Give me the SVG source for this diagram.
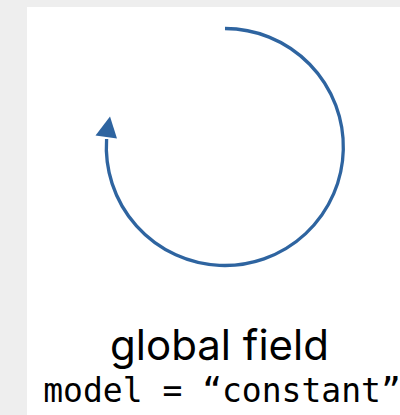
<svg xmlns="http://www.w3.org/2000/svg" width="400" height="415" viewBox="0 0 400 415">
  <style>
    .edge { fill: none; stroke: #2e64a0; stroke-width: 3.3; }
    .head { fill: #2e64a0; }
    .title { font-family: Inter, "Liberation Sans", sans-serif; font-size: 42px; fill: #000; text-anchor: middle; }
    .code { font-family: "DejaVu Sans Mono", "Liberation Mono", monospace; font-size: 33px; fill: #000; text-anchor: middle; }
  </style>
  <rect x="0" y="0" width="400" height="415" fill="#eeeeee"/>
  <rect x="27" y="7" width="373" height="408" fill="#ffffff"/>
  <g id="connectors">
    <path class="edge" d="M225,28.5 A118.5,118.5 0 1,1 106.6,139"/>
    <polygon class="head" points="110,116.5 95.5,135.5 117,138.5"/>
  </g>
  <g id="label">
    <text class="title" x="219.5" y="359.5">global field</text>
    <text class="code" x="222" y="402">model = “constant”</text>
  </g>
</svg>
